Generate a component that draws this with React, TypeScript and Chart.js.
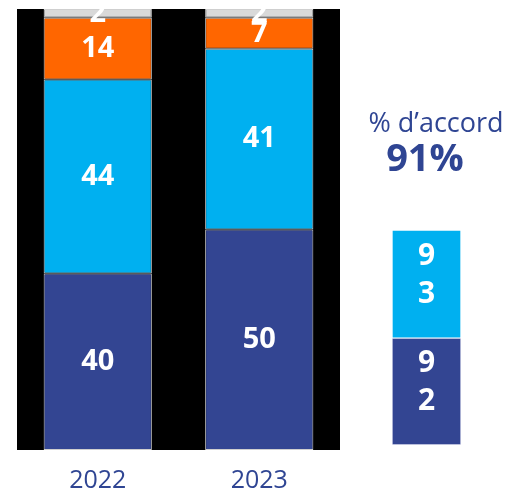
import React, { useEffect, useRef } from "react";
import { Chart, registerables } from "chart.js";

Chart.register(...registerables);

// ---- data ----
const years = ["2022", "2023"];
const toutAFait = [40, 50];
const plutot = [44, 41];
const plutotPas = [14, 7];
const pasDuTout = [2, 2];

const accordLabel = "% d’accord";
const accordTotal = "91%";
const miniCategories = ["2023"];
const miniToutAFait = [92];
const miniPlutot = [93];

// ---- styles ----
const DARK = "#334592";
const CYAN = "#00b0f0";
const ORANGE = "#ff6600";
const GREY = "#d9d9d9";
const TEXT = "#2f4593";
const FONT = '"Open Sans", "DejaVu Sans", sans-serif';

function makeLabelPlugin(size: number, split: boolean, lineHeight: number, offset: number) {
  return {
    id: "segLabels",
    afterDatasetsDraw(chart: any) {
      const { ctx, chartArea } = chart;
      ctx.save();
      ctx.beginPath();
      ctx.rect(chartArea.left, chartArea.top, chartArea.right - chartArea.left, chartArea.bottom - chartArea.top);
      ctx.clip();
      ctx.fillStyle = "#ffffff";
      ctx.font = `bold ${size}px ${FONT}`;
      ctx.textAlign = "center";
      ctx.textBaseline = "middle";
      chart.data.datasets.forEach((ds: any, i: number) => {
        const meta = chart.getDatasetMeta(i);
        meta.data.forEach((el: any, j: number) => {
          const { x, y, base } = el.getProps(["x", "y", "base"], true);
          const v = String(ds.data[j]);
          const lines = split ? v.split("") : [v];
          const cy = (y + base) / 2 + offset;
          lines.forEach((t: string, k: number) => {
            ctx.fillText(t, x, cy + (k - (lines.length - 1) / 2) * lineHeight);
          });
        });
      });
      ctx.restore();
    },
  };
}

const blackBg = {
  id: "blackBg",
  beforeDatasetsDraw(chart: any) {
    const { ctx, chartArea } = chart;
    ctx.save();
    ctx.fillStyle = "#000000";
    ctx.fillRect(chartArea.left, chartArea.top, chartArea.right - chartArea.left, chartArea.bottom - chartArea.top);
    ctx.restore();
  },
};

export default function App() {
  const mainRef = useRef<HTMLCanvasElement | null>(null);
  const miniRef = useRef<HTMLCanvasElement | null>(null);

  useEffect(() => {
    const seg = (label: string, data: number[], color: string) => ({
      label,
      data,
      backgroundColor: color,
      borderColor: "#cfcfcf",
      borderWidth: 1,
      borderSkipped: false,
    });
    const main = new Chart(mainRef.current!, {
      type: "bar",
      data: {
        labels: years,
        datasets: [
          seg("Tout à fait d'accord", toutAFait, DARK),
          seg("Plutôt d'accord", plutot, CYAN),
          seg("Plutôt pas d'accord", plutotPas, ORANGE),
          seg("Pas du tout d'accord", pasDuTout, GREY),
        ],
      },
      options: {
        responsive: false,
        animation: false,
        layout: { padding: { left: 17, right: 167, top: 9, bottom: 0 } },
        plugins: { legend: { display: false }, tooltip: { enabled: false } },
        datasets: { bar: { categoryPercentage: 0.67, barPercentage: 1 } },
        scales: {
          x: {
            stacked: true,
            grid: { display: false, drawTicks: false },
            border: { display: false },
            ticks: {
              color: TEXT,
              font: { family: FONT, size: 25, lineHeight: 1 },
              padding: 18,
            },
          },
          y: { stacked: true, display: false, min: 0, max: 100 },
        },
      },
      plugins: [blackBg, makeLabelPlugin(29, false, 0, 0)],
    });

    const mini = new Chart(miniRef.current!, {
      type: "bar",
      data: {
        labels: miniCategories,
        datasets: [
          { label: "Tout à fait", data: miniToutAFait, backgroundColor: DARK, borderColor: "#e8e8f4", borderWidth: 1, borderSkipped: false },
          { label: "Plutôt", data: miniPlutot, backgroundColor: CYAN, borderColor: "#ffffff", borderWidth: 1, borderSkipped: false },
        ],
      },
      options: {
        responsive: false,
        animation: false,
        layout: { padding: 10 },
        plugins: { legend: { display: false }, tooltip: { enabled: false } },
        datasets: { bar: { categoryPercentage: 1, barPercentage: 1 } },
        scales: {
          x: { stacked: true, display: false },
          y: { stacked: true, display: false, min: 0, max: 185 },
        },
      },
      plugins: [makeLabelPlugin(30, true, 38, -9)],
    });

    return () => {
      main.destroy();
      mini.destroy();
    };
  }, []);

  return (
    <div style={{ position: "fixed", left: 0, top: 0, width: 507, height: 496, background: "#fff", overflow: "hidden" }}>
      <canvas ref={mainRef} width={507} height={511} style={{ position: "absolute", left: 0, top: 0 }} />
      <canvas ref={miniRef} width={89} height={235} style={{ position: "absolute", left: 382, top: 220 }} />
      <div
        style={{
          position: "absolute", left: 336, top: 108, width: 200, textAlign: "center",
          fontFamily: FONT, fontSize: 27, lineHeight: "27px", color: TEXT, whiteSpace: "nowrap",
        }}
      >
        {accordLabel}
      </div>
      <div
        style={{
          position: "absolute", left: 325, top: 137, width: 200, textAlign: "center",
          fontFamily: FONT, fontSize: 38, fontWeight: 700, lineHeight: "38px", color: TEXT, whiteSpace: "nowrap",
        }}
      >
        {accordTotal}
      </div>
    </div>
  );
}
